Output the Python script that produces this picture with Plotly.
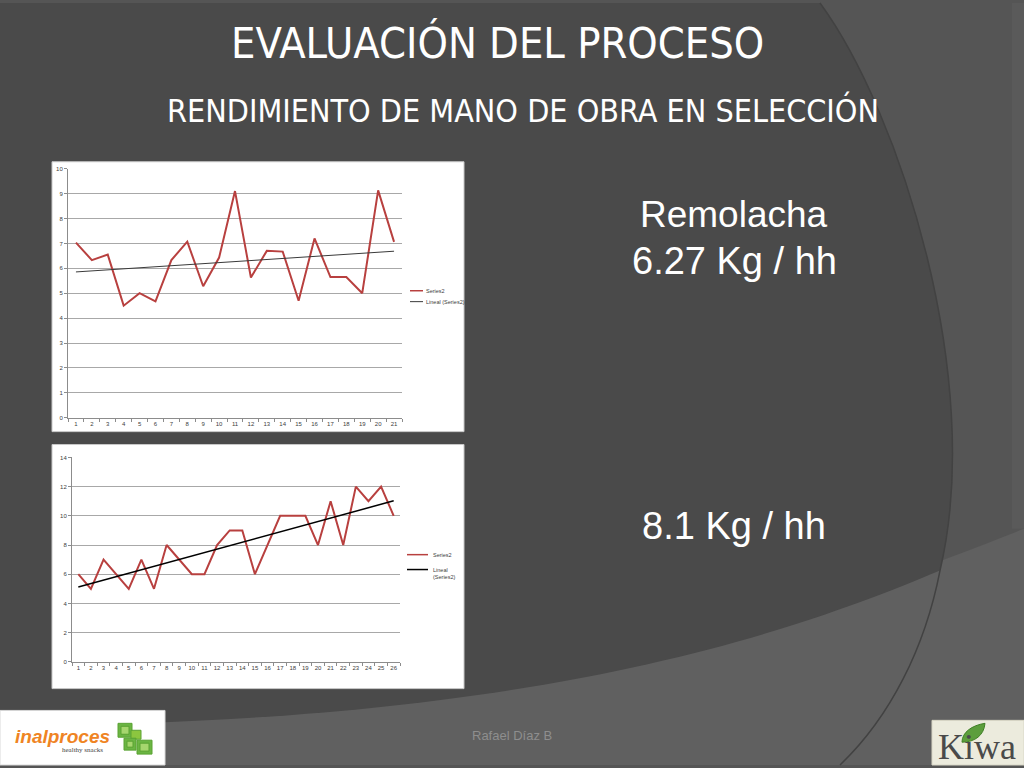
import plotly.graph_objects as go
import numpy as np

W, H = 1024, 768

# ---------------- data ----------------
days1 = list(range(1, 22))
rend1 = [7.03, 6.33, 6.55, 4.5, 5.0, 4.67, 6.33, 7.07, 5.28, 6.43, 9.1,
         5.63, 6.7, 6.67, 4.7, 7.2, 5.65, 5.65, 5.0, 9.13, 7.06]
days2 = list(range(1, 27))
rend2 = [6, 5, 7, 6, 5, 7, 5, 8, 7, 6, 6, 8, 9, 9, 6, 8, 10, 10, 10, 8,
         11, 8, 12, 11, 12, 10]
y1_ticks = list(range(0, 11))
y2_ticks = [0, 2, 4, 6, 8, 10, 12, 14]

title = "EVALUACIÓN DEL PROCESO"
subtitle = "RENDIMIENTO DE MANO DE OBRA EN SELECCIÓN"
label1a = "Remolacha"
label1b = "6.27 Kg / hh"
label2 = "8.1 Kg / hh"
author = "Rafael Díaz B"
series_name = "Series2"
trend_name = "Lineal (Series2)"
trend_name2 = "Lineal<br>(Series2)"

RED = "#b8403f"
GRID = "#a8a8a8"
AXIS = "#8c8c8c"
TICKF = dict(size=6, color="#404040", family="Liberation Sans, Arial")


def fx(x):
    return x / W


def fy(y):
    return 1 - y / H


def pt(p):
    return f"{fx(p[0]):.5f},{fy(p[1]):.5f}"


def path(cmds, close=True):
    """Each command letter is repeated per segment (plotly drops extra params)."""
    parts = []
    for c, pts in cmds:
        n = 3 if c == "C" else (2 if c == "Q" else 1)
        for i in range(0, len(pts), n):
            parts.append(c + " " + " ".join(pt(p) for p in pts[i:i + n]))
    s = " ".join(parts)
    return s + (" Z" if close else "")


def rect(x0, y0, x1, y1, fill, line=None, lw=0, layer="below"):
    return dict(type="rect", xref="paper", yref="paper",
                x0=fx(x0), x1=fx(x1), y0=fy(y1), y1=fy(y0),
                fillcolor=fill, line=dict(color=line or fill, width=lw), layer=layer)


def hline(x0, x1, y, color, width):
    return dict(type="line", xref="paper", yref="paper", layer="above",
                x0=fx(x0), x1=fx(x1), y0=fy(y), y1=fy(y),
                line=dict(color=color, width=width))


fig = go.Figure()

# ---------------- traces ----------------
fig.add_trace(go.Scatter(x=days1, y=rend1, mode="lines", name=series_name,
                         line=dict(color=RED, width=2), xaxis="x", yaxis="y"))
c1 = np.polyfit(days1, rend1, 1)
tx1 = [days1[0], days1[-1]]
fig.add_trace(go.Scatter(x=tx1, y=list(np.polyval(c1, tx1)), mode="lines",
                         name=trend_name, line=dict(color="#3a3a3a", width=1),
                         xaxis="x", yaxis="y"))

fig.add_trace(go.Scatter(x=days2, y=rend2, mode="lines", name=series_name,
                         line=dict(color=RED, width=2), xaxis="x2", yaxis="y2"))
c2 = np.polyfit(days2, rend2, 1)
tx2 = [days2[0], days2[-1]]
fig.add_trace(go.Scatter(x=tx2, y=list(np.polyval(c2, tx2)), mode="lines",
                         name=trend_name, line=dict(color="#000000", width=1.5),
                         xaxis="x2", yaxis="y2"))

# ---------------- background shapes ----------------
ARC1 = [(900, 110), (985, 380), (940, 572)]
shapes = []
# lower lighter band
shapes.append(dict(type="path", xref="paper", yref="paper", layer="below",
                   path=path([("M", [(W, 530)]),
                              ("C", [(820, 610), (520, 728), (0, 728)]),
                              ("L", [(0, H), (W, H)])]),
                   fillcolor="#606060", line=dict(width=0)))
# main dark area
shapes.append(dict(type="path", xref="paper", yref="paper", layer="below",
                   path=path([("M", [(0, 0)]), ("L", [(820, 0)]),
                              ("C", ARC1),
                              ("C", [(780, 640), (520, 728), (0, 728)])]),
                   fillcolor="#4a4a4a", line=dict(width=0)))
# arc shadow line
shapes.append(dict(type="path", xref="paper", yref="paper", layer="below",
                   path=path([("M", [(820, 0)]), ("C", ARC1),
                              ("C", [(925, 650), (890, 720), (840, 768)])], close=False),
                   fillcolor="rgba(0,0,0,0)", line=dict(color="#424242", width=1.5)))
# subtle lighter top-right corner
shapes.append(rect(1012, 0, 1024, 530, "#5a5a5a"))

# chart boxes
shapes.append(rect(52, 160, 464, 432, "#ffffff", "#c8c8c8", 1))
shapes.append(rect(52, 445, 464, 691, "#ffffff", "#c8c8c8", 1))

# manual legends
shapes.append(hline(410, 423, 290, RED, 1.5))
shapes.append(hline(410, 423, 301, "#3a3a3a", 1))
shapes.append(hline(407, 428, 556, RED, 1.5))
shapes.append(hline(407, 428, 571, "#000000", 1.5))

# left logo box
shapes.append(rect(0, 713, 165, 768, "#ffffff", "#d9d9d9", 1))
for (x0, y0, x1, y1, col) in [(118, 726, 132, 740, "#6bb543"), (131, 733, 141, 742, "#8cc63f"),
                              (124, 741, 136, 753, "#6bb543"), (137, 743, 152, 757, "#6bb543"),
                              (121, 729, 129, 737, "#a6d66e"), (127, 744, 133, 750, "#a6d66e"),
                              (140, 746, 149, 754, "#a6d66e")]:
    shapes.append(dict(type="rect", xref="paper", yref="paper", layer="above",
                       x0=fx(x0), x1=fx(x1), y0=fy(y1), y1=fy(y0),
                       fillcolor=col, line=dict(color="#5aa233", width=1)))

# right logo box
shapes.append(rect(932, 723, 1024, 768, "#ecebdd", "#d8d6c6", 1, layer="above"))
shapes.append(dict(type="path", xref="paper", yref="paper", layer="above",
                   path=path([("M", [(962, 745)]), ("C", [(962, 735), (972, 728), (985, 726)]),
                              ("C", [(984, 738), (975, 745), (962, 745)])]),
                   fillcolor="#5c9e3c", line=dict(color="#3f7f25", width=1)))

# ---------------- annotations ----------------
ann = []


def text(t, x, y, size, color, family="Liberation Sans, Arial", xanchor="center",
         yanchor="middle", align="center"):
    ann.append(dict(text=t, x=fx(x), y=fy(y), xref="paper", yref="paper",
                    showarrow=False, xanchor=xanchor, yanchor=yanchor, align=align,
                    font=dict(family=family, size=size, color=color)))


COND = "DejaVu Sans Condensed, Liberation Sans Narrow, Arial Narrow"
text(title, 497, 40, 43, "white", COND)
text(subtitle, 523, 108, 32, "white", COND)
text(label1a, 734, 213, 37, "white")
text(label1b, 734, 260, 38, "white")
text(label2, 734, 527, 38, "white")
text(author, 512, 738, 13, "#8e8e8e")
text("<b><i>inalproces</i></b>", 62, 739, 19, "#ef8423")
text("healthy snacks", 82, 753, 7, "#444444", "Liberation Serif, Times New Roman")
text("Kiwa", 977, 750, 36, "#4a4a4a", "Liberation Serif, Times New Roman")
# legends
text(series_name, 424, 290, 5.5, "#404040", xanchor="left", align="left")
text(trend_name, 424, 301, 5.5, "#404040", xanchor="left", align="left")
text(series_name, 431, 556, 5.5, "#404040", xanchor="left", align="left")
text(trend_name2, 431, 566, 5.5, "#404040", xanchor="left", yanchor="top", align="left")

# ---------------- axes ----------------
common_x = dict(showgrid=False, zeroline=False, showline=True, linecolor=AXIS, linewidth=1,
                tickmode="linear", tick0=1, dtick=1, ticks="", tickfont=TICKF,
                minor=dict(ticks="outside", tick0=0.5, dtick=1, ticklen=3,
                           tickcolor=AXIS, showgrid=False),
                fixedrange=True)
common_y = dict(showgrid=True, gridcolor=GRID, gridwidth=1, zeroline=False, showline=True,
                linecolor=AXIS, linewidth=1, ticks="outside", ticklen=3, tickcolor=AXIS,
                tickfont=TICKF, fixedrange=True)

fig.update_layout(
    width=W, height=H, margin=dict(l=0, r=0, t=0, b=0),
    paper_bgcolor="#555555", plot_bgcolor="rgba(0,0,0,0)",
    shapes=shapes, annotations=ann, showlegend=False,
    xaxis=dict(common_x, domain=[fx(68), fx(402)], range=[0.5, 21.5], anchor="y"),
    yaxis=dict(common_y, domain=[fy(418), fy(167)], range=[0, 10],
               tickvals=y1_ticks, anchor="x"),
    xaxis2=dict(common_x, domain=[fx(72), fx(400)], range=[0.5, 26.5], anchor="y2"),
    yaxis2=dict(common_y, domain=[fy(664), fy(458)], range=[0, 14],
                tickvals=y2_ticks, anchor="x2"),
)

fig.write_html("out.html", config=dict(displayModeBar=False),
               post_script="document.body.style.margin='0';document.body.style.overflow='hidden';")
